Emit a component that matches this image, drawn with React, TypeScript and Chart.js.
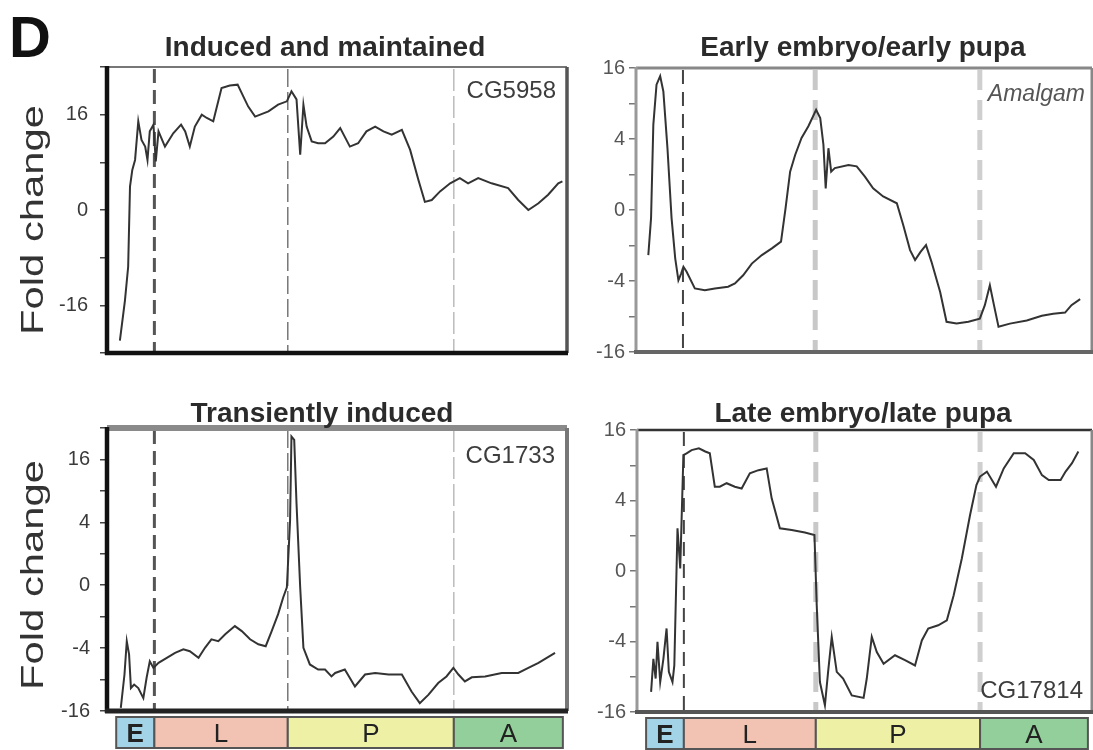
import React, { useEffect, useRef } from 'react';
import { Chart, registerables } from 'chart.js';

Chart.register(...registerables);

const FONT = '"Liberation Sans", Arial, Helvetica, sans-serif';

// ---- data ----
const phaseLabels = ['E', 'L', 'P', 'A'];
const phaseEdges = [2, 10.3, 39.3, 75.4, 99.1];
const phaseColors = ['#a3d3e6', '#f2c3b3', '#eef0a6', '#92cf9a'];

const panelTitles = ['Induced and maintained', 'Early embryo/early pupa', 'Transiently induced', 'Late embryo/late pupa'];
const geneNames = ['CG5958', 'Amalgam', 'CG1733', 'CG17814'];

// y positions are log-scale units; labels show fold change
const linTickValues = [-3, -2, -1, 0, 1, 2, 3];
const linTickLabels = ['', '-16', '', '0', '', '16', ''];
const logTickValues = [-4, -3, -2, -1, 0, 1, 2, 3, 4];
const logTickLabels = ['-16', '', '-4', '', '0', '', '4', '', '16'];
const transTickValues = [-4, -3, -2, -1, 0, 1, 2, 3, 4, 5];
const transTickLabels = ['-16', '', '-4', '', '0', '', '4', '', '16', ''];

const inducedPoints = [
  [2.8, -2.74], [3.9, -1.9], [4.6, -1.19], [5.0, 0.49], [5.5, 0.84], [6.1, 1.05], [6.8, 1.86], [7.5, 1.47],
  [8.3, 1.33], [8.8, 1.05], [9.3, 1.65], [10.1, 1.79], [10.6, 1.02], [11.2, 1.65], [12.6, 1.33], [14.4, 1.61],
  [16.1, 1.79], [17.0, 1.65], [18.0, 1.33], [19.1, 1.75], [20.6, 2.0], [21.7, 1.93], [23.1, 1.86], [24.9, 2.56],
  [26.7, 2.61], [28.4, 2.63], [29.6, 2.39], [30.7, 2.17], [32.2, 1.96], [35.1, 2.07], [37.2, 2.21], [39.1, 2.28],
  [40.1, 2.49], [41.2, 2.32], [42.0, 1.16], [42.7, 2.21], [43.4, 1.75], [44.5, 1.44], [45.9, 1.4], [47.4, 1.4],
  [49.2, 1.54], [50.7, 1.72], [52.8, 1.33], [54.6, 1.4], [56.4, 1.65], [58.3, 1.75], [60.1, 1.65], [61.9, 1.58],
  [64.1, 1.68], [65.9, 1.26], [67.7, 0.63], [69.1, 0.17], [70.6, 0.21], [72.4, 0.39], [74.6, 0.56], [76.7, 0.67],
  [78.5, 0.56], [80.7, 0.67], [83.6, 0.56], [87.2, 0.46], [89.4, 0.21], [91.6, 0.0], [93.8, 0.14], [95.9, 0.32],
  [98.1, 0.56], [99.0, 0.6],
];

const earlyPoints = [
  [2.7, -1.27], [3.3, -0.23], [3.8, 2.4], [4.5, 3.53], [5.3, 3.77], [6.0, 3.34], [6.9, 1.74], [7.8, -0.23],
  [8.6, -1.36], [9.3, -1.98], [9.9, -1.79], [10.4, -1.6], [11.1, -1.74], [12.9, -2.21], [15.1, -2.26], [17.3, -2.21],
  [20.2, -2.16], [21.7, -2.07], [23.5, -1.84], [25.4, -1.51], [27.6, -1.27], [29.8, -1.08], [31.8, -0.89], [32.8, 0.05],
  [33.8, 1.08], [34.9, 1.55], [36.3, 2.03], [37.8, 2.36], [39.5, 2.82], [40.4, 2.59], [41.1, 1.84], [41.6, 0.61],
  [42.2, 1.74], [42.8, 1.08], [43.6, 1.18], [46.6, 1.27], [48.4, 1.23], [50.2, 0.94], [52.0, 0.61], [54.2, 0.38],
  [57.2, 0.19], [58.6, -0.42], [60.1, -1.13], [61.2, -1.41], [62.4, -1.18], [63.6, -0.99], [64.8, -1.46], [66.7, -2.31],
  [68.1, -3.15], [70.3, -3.2], [72.9, -3.15], [75.4, -3.06], [76.5, -2.68], [77.6, -2.12], [78.5, -2.68], [79.5, -3.29],
  [82.0, -3.2], [85.7, -3.11], [89.0, -2.98], [91.5, -2.92], [94.1, -2.89], [95.5, -2.68], [97.4, -2.51],
];

const transientPoints = [
  [3.0, -3.9], [3.8, -2.84], [4.3, -1.78], [4.8, -2.2], [5.2, -3.27], [5.9, -3.16], [6.8, -3.27], [7.9, -3.59],
  [8.6, -2.95], [9.3, -2.42], [10.1, -2.63], [11.2, -2.47], [13.0, -2.31], [14.8, -2.15], [16.6, -2.04], [18.0, -2.1],
  [19.9, -2.31], [21.3, -1.99], [22.7, -1.72], [24.2, -1.78], [25.7, -1.56], [27.8, -1.3], [29.3, -1.46], [31.1, -1.72],
  [32.9, -1.88], [34.5, -1.94], [35.8, -1.46], [37.2, -0.92], [38.3, -0.39], [39.1, -0.07], [39.8, 2.06], [40.1, 4.73],
  [40.7, 4.62], [41.2, 2.6], [42.0, -0.07], [42.7, -1.99], [44.1, -2.52], [45.9, -2.68], [47.4, -2.68], [48.8, -2.9],
  [49.6, -2.79], [51.7, -2.68], [53.9, -3.22], [56.1, -2.84], [58.3, -2.79], [61.2, -2.84], [64.1, -2.84], [66.2, -3.38],
  [68.0, -3.75], [69.9, -3.48], [72.0, -3.11], [73.8, -2.9], [75.3, -2.63], [76.4, -2.84], [77.8, -3.06], [79.3, -2.93],
  [82.2, -2.9], [85.8, -2.79], [89.4, -2.79], [91.6, -2.63], [93.8, -2.47], [95.6, -2.31], [97.4, -2.15],
];

const latePoints = [
  [3.1, -3.43], [3.6, -2.49], [4.1, -3.05], [4.5, -2.01], [5.1, -3.15], [5.8, -2.49], [6.5, -1.63], [7.0, -2.86],
  [7.8, -3.15], [8.2, -2.68], [8.9, 1.21], [9.5, 0.07], [10.2, 3.29], [10.9, 3.34], [12.0, 3.43], [13.6, 3.48],
  [15.0, 3.39], [16.0, 3.34], [17.1, 2.39], [18.2, 2.39], [19.7, 2.49], [21.5, 2.39], [23.0, 2.34], [24.8, 2.77],
  [26.7, 2.86], [28.5, 2.91], [29.6, 2.06], [31.4, 1.21], [34.0, 1.16], [36.9, 1.09], [39.0, 1.02], [39.5, -0.97],
  [40.2, -3.15], [41.3, -3.81], [42.0, -2.86], [42.8, -1.87], [43.9, -2.86], [45.3, -3.05], [47.2, -3.53], [49.8, -3.6],
  [50.5, -3.05], [51.6, -1.87], [52.7, -2.3], [54.2, -2.63], [56.7, -2.39], [58.9, -2.53], [61.1, -2.68], [62.6, -1.97],
  [64.0, -1.63], [66.2, -1.54], [68.1, -1.4], [69.6, -0.69], [71.4, 0.36], [73.2, 1.59], [74.6, 2.44], [75.4, 2.68],
  [76.9, 2.82], [78.9, 2.39], [80.6, 2.91], [82.8, 3.34], [85.3, 3.34], [87.2, 3.15], [89.0, 2.72], [90.5, 2.58],
  [93.1, 2.58], [94.2, 2.82], [95.6, 3.06], [97.0, 3.39],
];

// ---- panel layout / style ----
type Side = [string, number];
type Dash = { color: string; width: number; dash: number[] };
interface Panel {
  points: number[][];
  yMin: number; yMax: number;
  tickValues: number[]; tickLabels: string[];
  tickColor: string; labelColor: string; labelPad: number;
  padding: { left: number; top: number; right: number; bottom: number };
  title: string; titleX: number; titleY: number;
  note: string; noteItalic: boolean; noteX: number; noteY: number;
  frame: { top: Side; right: Side; bottom: Side; left: Side };
  dashes: Dash[];
  letter: boolean; yTitleY: number | null; phaseBar: boolean;
}

const leftDashes: Dash[] = [
  { color: '#555', width: 3, dash: [14, 7] },
  { color: '#777', width: 1.5, dash: [18, 5] },
  { color: '#aaa', width: 1.2, dash: [22, 5] },
];
const rightDashes: Dash[] = [
  { color: '#444', width: 2, dash: [14, 8] },
  { color: '#c8c8c8', width: 5, dash: [20, 10] },
  { color: '#cfcfcf', width: 5, dash: [20, 10] },
];

const panels: Panel[] = [
  {
    points: inducedPoints, yMin: -3, yMax: 3, tickValues: linTickValues, tickLabels: linTickLabels,
    tickColor: '#444', labelColor: '#3a3a3a', labelPad: 12,
    padding: { left: 47, top: 67, right: 526, bottom: 397 },
    title: panelTitles[0], titleX: 325, titleY: 56,
    note: geneNames[0], noteItalic: false, noteX: 556, noteY: 98,
    frame: { top: ['#777', 2], right: ['#555', 3.5], bottom: ['#111', 4.5], left: ['#111', 4.5] },
    dashes: leftDashes, letter: true, yTitleY: 220, phaseBar: false,
  },
  {
    points: earlyPoints, yMin: -4, yMax: 4, tickValues: logTickValues, tickLabels: logTickLabels,
    tickColor: '#777', labelColor: '#555', labelPad: 4,
    padding: { left: 576, top: 68, right: 1, bottom: 398 },
    title: panelTitles[1], titleX: 863, titleY: 56,
    note: geneNames[1], noteItalic: true, noteX: 1085, noteY: 101,
    frame: { top: ['#888', 3], right: ['#888', 3], bottom: ['#666', 4], left: ['#999', 3] },
    dashes: rightDashes, letter: false, yTitleY: null, phaseBar: false,
  },
  {
    points: transientPoints, yMin: -4, yMax: 5, tickValues: transTickValues, tickLabels: transTickLabels,
    tickColor: '#444', labelColor: '#3a3a3a', labelPad: 10,
    padding: { left: 47, top: 428, right: 526, bottom: 39 },
    title: panelTitles[2], titleX: 322, titleY: 422,
    note: geneNames[2], noteItalic: false, noteX: 555, noteY: 463,
    frame: { top: ['#8a8a8a', 6], right: ['#777', 4], bottom: ['#222', 5], left: ['#111', 4.5] },
    dashes: leftDashes, letter: false, yTitleY: 575, phaseBar: true,
  },
  {
    points: latePoints, yMin: -4, yMax: 4, tickValues: logTickValues, tickLabels: logTickLabels,
    tickColor: '#777', labelColor: '#555', labelPad: 4,
    padding: { left: 577, top: 430, right: 1, bottom: 38 },
    title: panelTitles[3], titleX: 863, titleY: 422,
    note: geneNames[3], noteItalic: false, noteX: 1083, noteY: 698,
    frame: { top: ['#333', 2.5], right: ['#888', 3], bottom: ['#555', 4], left: ['#999', 3] },
    dashes: rightDashes, letter: false, yTitleY: null, phaseBar: true,
  },
];

function makeDecor(p: Panel) {
  return {
    id: 'decor',
    beforeDatasetsDraw(chart: any) {
      const ctx = chart.ctx;
      const { top, bottom } = chart.chartArea;
      const xs = chart.scales.x;
      ctx.save();
      for (let i = 1; i < phaseEdges.length - 1; i++) {
        const d = p.dashes[i - 1];
        const x = xs.getPixelForValue(phaseEdges[i]);
        ctx.strokeStyle = d.color;
        ctx.lineWidth = d.width;
        ctx.setLineDash(d.dash);
        ctx.beginPath();
        ctx.moveTo(x, top + 2);
        ctx.lineTo(x, bottom);
        ctx.stroke();
      }
      ctx.restore();
    },
    afterDraw(chart: any) {
      const ctx = chart.ctx;
      const { left, right, top, bottom } = chart.chartArea;
      const xs = chart.scales.x;
      ctx.save();
      const f = p.frame;
      const side = (s: Side, x1: number, y1: number, x2: number, y2: number) => {
        ctx.strokeStyle = s[0];
        ctx.lineWidth = s[1];
        ctx.beginPath();
        ctx.moveTo(x1, y1);
        ctx.lineTo(x2, y2);
        ctx.stroke();
      };
      side(f.top, left, top, right, top);
      side(f.right, right, top, right, bottom);
      side(f.left, left, top - 1, left, bottom + 2);
      side(f.bottom, left - 2, bottom, right + 1, bottom);

      ctx.fillStyle = '#2b2b2b';
      ctx.font = `bold 28px ${FONT}`;
      ctx.textAlign = 'center';
      ctx.textBaseline = 'alphabetic';
      ctx.fillText(p.title, p.titleX, p.titleY);

      ctx.fillStyle = p.noteItalic ? '#555' : '#3d3d3d';
      ctx.font = `${p.noteItalic ? 'italic ' : ''}${p.noteItalic ? 23 : 24}px ${FONT}`;
      ctx.textAlign = 'right';
      ctx.fillText(p.note, p.noteX, p.noteY);

      if (p.letter) {
        ctx.fillStyle = '#111';
        ctx.font = `bold 58px ${FONT}`;
        ctx.textAlign = 'left';
        ctx.fillText('D', 9, 57);
      }

      if (p.yTitleY !== null) {
        ctx.save();
        ctx.translate(34, p.yTitleY);
        ctx.rotate(-Math.PI / 2);
        ctx.font = `31px ${FONT}`;
        const w = ctx.measureText('Fold change').width;
        ctx.scale(230 / w, 1);
        ctx.fillStyle = '#333';
        ctx.textAlign = 'center';
        ctx.textBaseline = 'middle';
        ctx.fillText('Fold change', 0, 0);
        ctx.restore();
      }

      if (p.phaseBar) {
        const y0 = bottom + 6;
        const h = 31;
        for (let i = 0; i < phaseLabels.length; i++) {
          const x0 = xs.getPixelForValue(phaseEdges[i]);
          const x1 = xs.getPixelForValue(phaseEdges[i + 1]);
          ctx.fillStyle = phaseColors[i];
          ctx.fillRect(x0, y0, x1 - x0, h);
          ctx.strokeStyle = '#555';
          ctx.lineWidth = 2;
          ctx.setLineDash([]);
          ctx.strokeRect(x0, y0, x1 - x0, h);
          ctx.fillStyle = '#222';
          ctx.font = `${i === 0 ? 'bold ' : ''}26px ${FONT}`;
          ctx.textAlign = 'center';
          ctx.textBaseline = 'middle';
          ctx.fillText(phaseLabels[i], (x0 + x1) / 2, y0 + h / 2 + 2);
        }
      }
      ctx.restore();
    },
  };
}

function PanelChart({ p }: { p: Panel }) {
  const ref = useRef<HTMLCanvasElement | null>(null);
  useEffect(() => {
    if (!ref.current) return;
    const chart = new Chart(ref.current, {
      type: 'line',
      data: {
        datasets: [
          {
            data: p.points.map(([x, y]) => ({ x, y })),
            borderColor: '#333',
            borderWidth: 2,
            pointRadius: 0,
            tension: 0,
            fill: false,
          },
        ],
      },
      options: {
        responsive: false,
        maintainAspectRatio: false,
        animation: false,
        layout: { padding: p.padding },
        plugins: { legend: { display: false }, tooltip: { enabled: false }, title: { display: false } },
        scales: {
          x: { type: 'linear', min: 0, max: 100, display: false },
          y: {
            type: 'linear',
            min: p.yMin,
            max: p.yMax,
            afterBuildTicks: (s: any) => {
              s.ticks = p.tickValues.map((v) => ({ value: v }));
            },
            afterFit: (s: any) => {
              s.width = 60;
            },
            grid: { drawOnChartArea: false, drawTicks: true, tickLength: 7, color: p.tickColor, lineWidth: 1.5 },
            border: { display: false },
            ticks: {
              autoSkip: false,
              padding: p.labelPad,
              color: p.labelColor,
              font: { family: FONT, size: 20 },
              callback: (v: any) => {
                const i = p.tickValues.indexOf(Number(v));
                return i >= 0 ? p.tickLabels[i] : '';
              },
            },
          },
        },
      } as any,
      plugins: [makeDecor(p)],
    });
    return () => chart.destroy();
  }, [p]);
  return (
    <canvas
      ref={ref}
      width={1093}
      height={750}
      style={{ position: 'absolute', left: 0, top: 0, width: 1093, height: 750 }}
    />
  );
}

export default function App() {
  return (
    <div style={{ position: 'absolute', left: 0, top: 0, width: 1093, height: 750, background: '#fff', overflow: 'hidden' }}>
      {panels.map((p, i) => (
        <PanelChart key={i} p={p} />
      ))}
    </div>
  );
}
